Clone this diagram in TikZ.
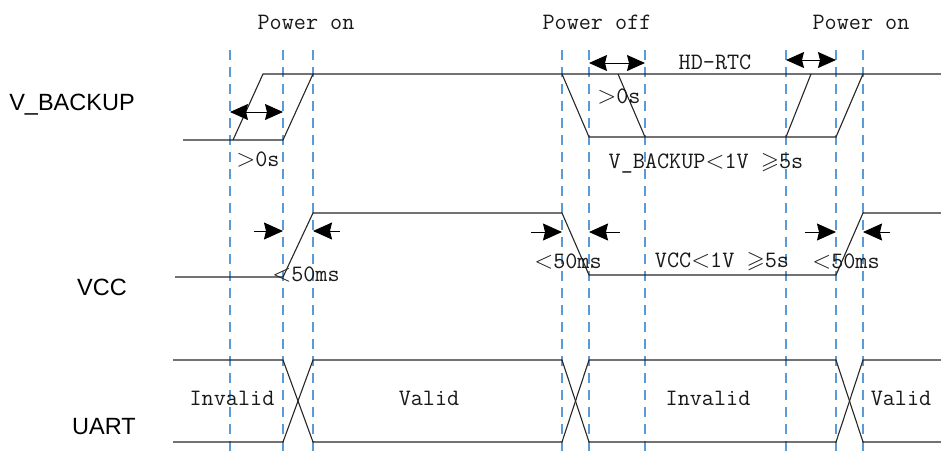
\documentclass[tikz,border=0pt]{standalone}
\usepackage{amssymb}
\usepackage{fontspec}
\usepackage{tikz}
\usetikzlibrary{arrows.meta,positioning}
\newfontfamily\signame{Liberation Sans}
\definecolor{guideblue}{RGB}{91,155,213}

\tikzset{
 sig/.style={black!85, line width=1.1pt},
 guide/.style={guideblue, line width=1.3pt, dash pattern=on 10pt off 7pt},
 dim/.style={line width=1pt, {Stealth[length=18pt,width=16pt,inset=2pt]}-{Stealth[length=18pt,width=16pt,inset=2pt]}},
 pin/.style={line width=1pt, -{Stealth[length=19pt,width=17pt,inset=2pt]}},
 tlabel/.style={font=\ttfamily\fontsize{23.5}{23.5}\selectfont, text=black!90, inner sep=0pt},
 slabel/.style={font=\signame\fontsize{23.5}{23.5}\selectfont, inner sep=0pt}
}

\begin{document}
\begin{tikzpicture}[x=1pt,y=-1pt]
 \useasboundingbox (0,0) rectangle (941,456);

 % guide lines
 \foreach \gx in {230,283,313,562,589,645,786,836,863}
  \draw[guide] (\gx,50) -- (\gx,456);

 % V_BACKUP
 \draw[sig] (183,140) -- (283,140) -- (313,74);
 \draw[sig] (233,140) -- (263,74) -- (941,74);
 \draw[sig] (562,74) -- (589,137) -- (836,137) -- (863,74);
 \draw[sig] (618,74) -- (645,137);
 \draw[sig] (786,137) -- (811,74);

 % VCC
 \draw[sig] (175,277) -- (283,277) -- (313,213) -- (562,213) -- (589,275)
  -- (836,275) -- (863,213) -- (941,213);

 % UART
 \draw[sig] (173,360) -- (283,360) -- (313,442) -- (562,442) -- (589,360)
  -- (836,360) -- (863,442) -- (941,442);
 \draw[sig] (173,442) -- (283,442) -- (313,360) -- (562,360) -- (589,442)
  -- (836,442) -- (863,360) -- (941,360);

 % timing arrows
 \draw[dim] (230,112) -- (283,112);
 \draw[dim] (589,63) -- (645,63);
 \draw[dim] (786,60) -- (836,60);
 \draw[pin] (254,231) -- (283,231);
 \draw[pin] (340,231) -- (313,231);
 \draw[pin] (531,232) -- (562,232);
 \draw[pin] (620,232) -- (589,232);
 \draw[pin] (805,232) -- (836,232);
 \draw[pin] (890,232) -- (863,232);

 % labels
 \node[tlabel] (pon1) at (306,22) {Power on};
 \node[tlabel] (poff) at (597,22) {Power off};
 \node[tlabel] (pon2) at (861,22) {Power on};
 \node[slabel] (vb) at (72,105) {V\_BACKUP};
 \node[slabel] (vcc) at (102,287) {VCC};
 \node[slabel] (uart) at (104,427) {UART};
 \node[tlabel] (t1) at (258,160) {$>$0s};
 \node[tlabel] (t2) at (619,97) {$>$0s};
 \node[tlabel] (rtc) at (715,62) {HD-RTC};
 \node[tlabel] (vbl) at (706,163) {V\_BACKUP$<$1V $\geqslant$5s};
 \node[tlabel] (t3) at (306,275) {$<$50ms};
 \node[tlabel] (t4) at (568,262) {$<$50ms};
 \node[tlabel] (vcl) at (722,262) {VCC$<$1V $\geqslant$5s};
 \node[tlabel] (t5) at (846,262) {$<$50ms};
 \node[tlabel] (inv1) at (232,398) {Invalid};
 \node[tlabel] (val1) at (429,398) {Valid};
 \node[tlabel] (inv2) at (708,398) {Invalid};
 \node[tlabel] (val2) at (901,398) {Valid};
\end{tikzpicture}
\end{document}
